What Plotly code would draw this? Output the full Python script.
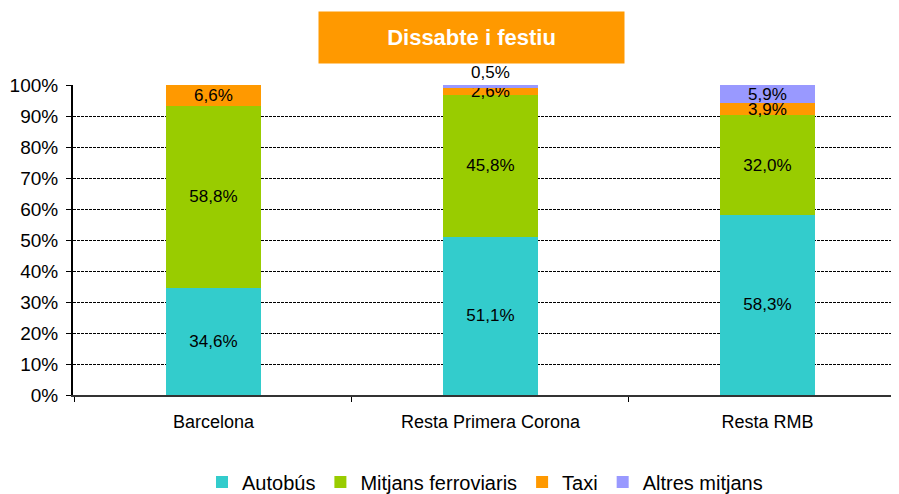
import plotly.graph_objects as go

categories = ["Barcelona", "Resta Primera Corona", "Resta RMB"]
series_names = ["Autobús", "Mitjans ferroviaris", "Taxi", "Altres mitjans"]
autobus = [34.6, 51.1, 58.3]
ferroviaris = [58.8, 45.8, 32.0]
taxi = [6.6, 2.6, 3.9]
altres = [0.0, 0.5, 5.9]
colors = ["#33CCCC", "#99CC00", "#FF9900", "#9999FF"]
title_text = "Dissabte i festiu"
ytick_vals = [i / 10 for i in range(11)]
ytick_text = [f"{i*10}%" for i in range(11)]

FONT = "Liberation Sans, Arial, sans-serif"

def fmt(v):
    return (f"{v:.1f}".replace(".", ",") + "%") if v > 0 else ""

fig = go.Figure()
all_series = [autobus, ferroviaris, taxi, altres]
for name, vals, col in zip(series_names, all_series, colors):
    if name == "Altres mitjans":
        pos = ["none" if v == 0 else ("outside" if v < 1 else "inside") for v in vals]
    else:
        pos = "inside"
    fig.add_trace(go.Bar(
        x=categories, y=[v / 100 for v in vals], name=name,
        marker=dict(color=col, line=dict(width=0)),
        text=[fmt(v) for v in vals], textposition=pos,
        insidetextanchor="middle",
        textangle=0, constraintext="none", cliponaxis=False,
        textfont=dict(family=FONT, size=17, color="black"),
        insidetextfont=dict(family=FONT, size=17, color="black"),
        outsidetextfont=dict(family=FONT, size=17, color="black"),
        width=0.343,
    ))

# plot area: 834 px wide, category step 277 px
x0 = -0.507
fig.add_annotation(
    x=(471.5 - 73) / 834, y=1.153, xref="paper", yref="paper",
    text=f"<b>{title_text}</b>", showarrow=False,
    font=dict(family=FONT, size=22, color="white"),
    bgcolor="#FF9900", width=303, height=49,
    xanchor="center", yanchor="middle",
)

fig.update_layout(
    barmode="stack",
    width=899, height=494,
    margin=dict(l=65, r=0, t=77, b=107, autoexpand=False),
    paper_bgcolor="white", plot_bgcolor="white",
    font=dict(family=FONT, size=17, color="black"),
    showlegend=True,
    legend=dict(orientation="h", x=(485 - 73) / 834, xanchor="center", y=-0.281, yanchor="middle",
                traceorder="normal",
                font=dict(family=FONT, size=20, color="black"),
                itemwidth=30, tracegroupgap=0),
    xaxis=dict(range=[x0, x0 + 834 / 277], tickson="boundaries", ticks="outside", ticklen=5,
               tickcolor="black", showline=True, linecolor="#333333", linewidth=2,
               showgrid=False, ticklabelstandoff=9,
               tickfont=dict(family=FONT, size=18, color="black")),
    yaxis=dict(range=[0, 1.0015], tickvals=ytick_vals, ticktext=ytick_text,
               ticks="outside", ticklen=5, tickcolor="black",
               showline=True, linecolor="black", linewidth=2, ticklabelstandoff=4,
               showgrid=True, gridcolor="black", gridwidth=1, griddash="3px,1px",
               zeroline=False, tickfont=dict(family=FONT, size=19, color="black")),
)

fig.write_html("out.html")
